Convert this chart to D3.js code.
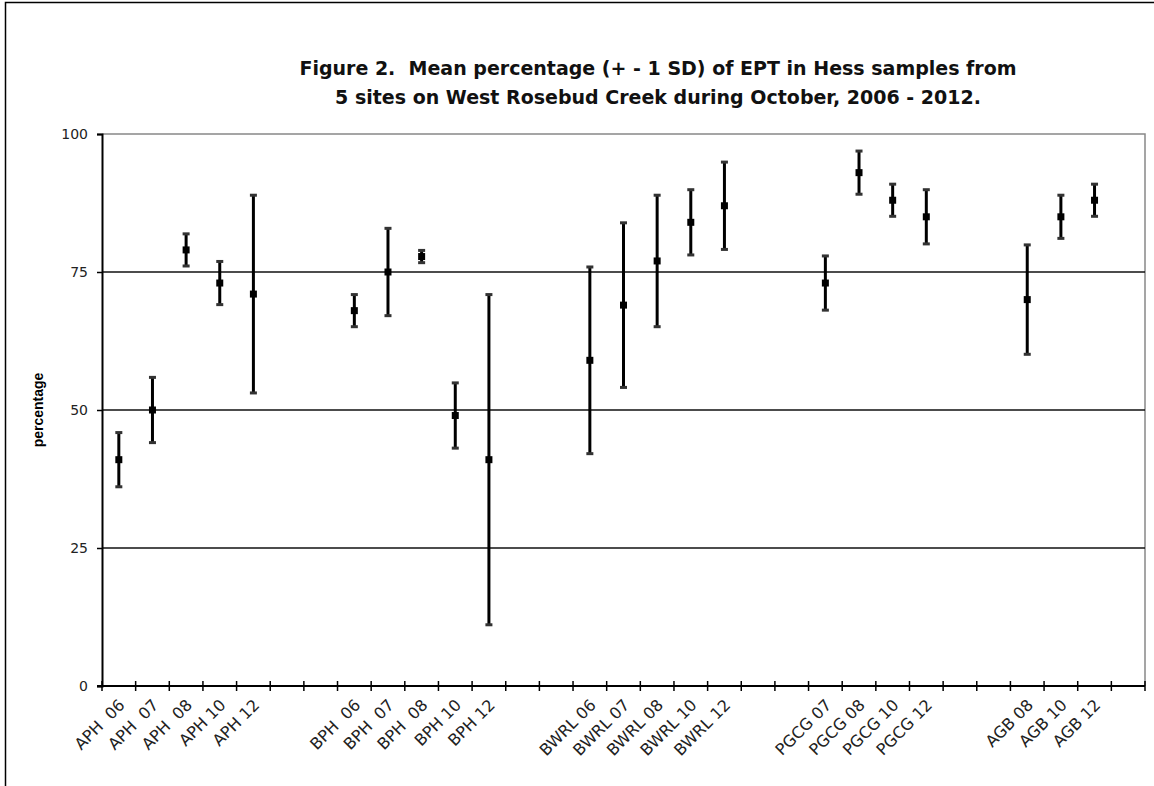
<!DOCTYPE html>
<html>
<head>
<meta charset="utf-8">
<script src="https://cdn.jsdelivr.net/npm/d3@7/dist/d3.min.js"></script>
<style>
  html, body { margin: 0; padding: 0; background: #fff; }
  svg { display: block; }
  .xlab { white-space: pre; }
</style>
</head>
<body>
<svg id="chart" width="1154" height="786"></svg>
<script>
// Category slots along the x axis; empty strings are gaps between sites
const labels = [
  "APH  06", "APH  07", "APH  08", "APH 10", "APH 12", "", "",
  "BPH  06", "BPH  07", "BPH  08", "BPH 10", "BPH 12", "", "",
  "BWRL 06", "BWRL 07", "BWRL 08", "BWRL 10", "BWRL 12", "", "",
  "PGCG 07", "PGCG 08", "PGCG 10", "PGCG 12", "", "",
  "AGB 08", "AGB 10", "AGB 12", ""
];
// Mean percentage EPT per slot (null = gap)
const means = [
  41, 50, 79, 73, 71, null, null,
  68, 75, 77.8, 49, 41, null, null,
  59, 69, 77, 84, 87, null, null,
  73, 93, 88, 85, null, null,
  70, 85, 88, null
];
// One standard deviation per slot
const sds = [
  5, 6, 3, 4, 18, null, null,
  3, 8, 1.2, 6, 30, null, null,
  17, 15, 12, 6, 8, null, null,
  5, 4, 3, 5, null, null,
  10, 4, 3, null
];
const yTicks = [0, 25, 50, 75, 100];
const titleLines = [
  "Figure 2.  Mean percentage (+ - 1 SD) of EPT in Hess samples from",
  "5 sites on West Rosebud Creek during October, 2006 - 2012."
];
const yTitle = "percentage";

const svg = d3.select("#chart");
const W = 1154, H = 786;
const plot = { left: 102, right: 1145, top: 134, bottom: 686 };

// outer frame
svg.append("rect")
  .attr("x", 5.5).attr("y", 2.5)
  .attr("width", W + 10).attr("height", H + 10)
  .attr("fill", "none").attr("stroke", "#000").attr("stroke-width", 1.5);

const x = d3.scaleBand()
  .domain(d3.range(labels.length))
  .range([plot.left, plot.right])
  .paddingInner(0).paddingOuter(0);

const y = d3.scaleLinear()
  .domain([0, 100])
  .range([plot.bottom, plot.top]);

// plot border (top and right)
svg.append("path")
  .attr("d", `M${plot.left},${plot.top}H${plot.right}V${plot.bottom}`)
  .attr("fill", "none").attr("stroke", "#888").attr("stroke-width", 1.5);

// horizontal gridlines
svg.append("g")
  .selectAll("line")
  .data(yTicks.filter(t => t > 0 && t < 100))
  .join("line")
  .attr("x1", plot.left).attr("x2", plot.right)
  .attr("y1", d => y(d)).attr("y2", d => y(d))
  .attr("stroke", "#111").attr("stroke-width", 1.5);

// y axis
const yAxis = svg.append("g")
  .attr("transform", `translate(${plot.left},0)`)
  .call(d3.axisLeft(y).tickValues(yTicks).tickSize(5).tickPadding(9));
yAxis.select(".domain").attr("stroke", "#000").attr("stroke-width", 2);
yAxis.selectAll(".tick line").attr("stroke", "#000").attr("stroke-width", 1.5);
yAxis.selectAll(".tick text")
  .attr("font-family", "DejaVu Sans, Verdana, sans-serif")
  .attr("font-size", 14).attr("fill", "#222");

// x axis: ticks sit on band boundaries and cross the axis line
const boundaries = d3.range(labels.length + 1).map(i =>
  i < labels.length ? x(i) : x(labels.length - 1) + x.bandwidth());
const xg = svg.append("g");
xg.append("line")
  .attr("x1", plot.left - 5).attr("x2", plot.right)
  .attr("y1", plot.bottom).attr("y2", plot.bottom)
  .attr("stroke", "#000").attr("stroke-width", 2);
xg.selectAll("line.tick")
  .data(boundaries)
  .join("line")
  .attr("class", "tick")
  .attr("x1", d => d).attr("x2", d => d)
  .attr("y1", plot.bottom - 5).attr("y2", plot.bottom + 5)
  .attr("stroke", "#000").attr("stroke-width", 1.5);

xg.selectAll("text.xlab")
  .data(labels.map((l, i) => ({ l, i })).filter(d => d.l))
  .join("text")
  .attr("class", "xlab")
  .attr("text-anchor", "end")
  .attr("font-family", "DejaVu Sans, Verdana, sans-serif")
  .attr("font-size", 16)
  .attr("fill", "#222")
  .attr("transform", d => `translate(${x(d.i) + x.bandwidth() / 2 + 7},${plot.bottom + 20}) rotate(-45)`)
  .text(d => d.l);

// error bars
const pts = means.map((m, i) => ({ i, m, sd: sds[i] })).filter(d => d.m != null);
const bars = svg.append("g").selectAll("g").data(pts).join("g")
  .attr("transform", d => `translate(${x(d.i) + x.bandwidth() / 2},0)`);
bars.append("line")
  .attr("y1", d => y(d.m + d.sd)).attr("y2", d => y(d.m - d.sd))
  .attr("stroke", "#000").attr("stroke-width", 3);
bars.append("rect")
  .attr("x", -3.5).attr("width", 7).attr("height", 3)
  .attr("y", d => y(d.m + d.sd) - 1)
  .attr("fill", "#333");
bars.append("rect")
  .attr("x", -3.5).attr("width", 7).attr("height", 3)
  .attr("y", d => y(d.m - d.sd) - 2)
  .attr("fill", "#333");
bars.append("rect")
  .attr("x", -3.5).attr("width", 7).attr("height", 7)
  .attr("y", d => y(d.m) - 3.5)
  .attr("fill", "#000");

// y axis title
svg.append("text")
  .attr("transform", `translate(43,${(plot.top + plot.bottom) / 2}) rotate(-90)`)
  .attr("text-anchor", "middle")
  .attr("font-family", "Liberation Sans, Arial, sans-serif")
  .attr("font-weight", "bold").attr("font-size", 14)
  .text(yTitle);

// chart title
svg.append("g").selectAll("text").data(titleLines).join("text")
  .attr("x", 658).attr("y", (d, i) => 75 + i * 29)
  .attr("text-anchor", "middle")
  .attr("font-family", "DejaVu Sans, Verdana, sans-serif")
  .attr("font-weight", "bold").attr("font-size", 19)
  .attr("fill", "#111")
  .style("white-space", "pre")
  .text(d => d);
</script>
</body>
</html>
